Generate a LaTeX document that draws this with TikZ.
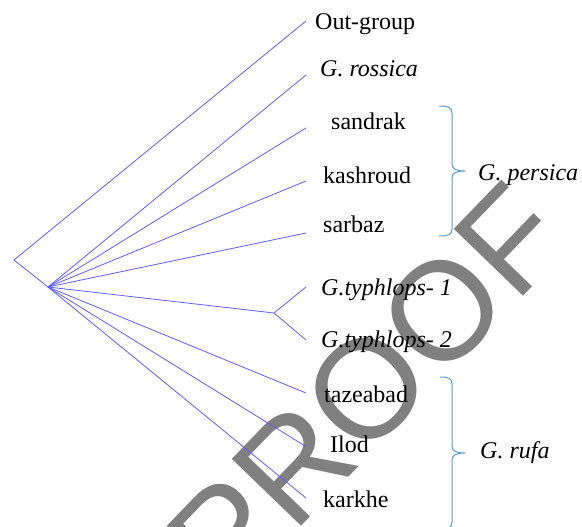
\documentclass[tikz,border=0pt]{standalone}
\usepackage{fontspec}
\setmainfont{Liberation Serif}
\newfontfamily\wmfont{Liberation Sans}
\definecolor{treeblue}{RGB}{95,95,250}
\definecolor{bracketblue}{RGB}{91,155,213}
\definecolor{wmgray}{RGB}{128,128,128}
\begin{document}
\begin{tikzpicture}[x=1pt,y=-1pt,
  branch/.style={draw=treeblue,line width=0.8pt},
  bracket/.style={draw=bracketblue,line width=1pt},
  leaf/.style={anchor=base west,inner sep=0pt,font=\fontsize{24}{28}\selectfont},
  italleaf/.style={leaf,font=\fontsize{24}{28}\selectfont\itshape},
  watermark/.style={text=wmgray,font=\wmfont\fontsize{140}{140}\selectfont,rotate=46,inner sep=0pt}]
\useasboundingbox (0,0) rectangle (582,527);
\fill[white] (0,0) rectangle (582,527);
% watermark
\node[watermark] (wm) at (367,389) {PROOF};
% tree vertices
\coordinate (og) at (14,260);
\coordinate (root) at (48,287);
\coordinate (typh) at (274,313);
\coordinate (e1) at (306,21);
\coordinate (e2) at (306,75);
\coordinate (e3) at (306,128);
\coordinate (e4) at (306,181);
\coordinate (e5) at (306,233);
\coordinate (e6) at (306,287);
\coordinate (e7) at (306,340);
\coordinate (e8) at (306,393);
\coordinate (e9) at (305,446);
\coordinate (e10) at (306,498);
% branches
\draw[branch] (e1) -- (og) -- (root);
\foreach \e in {e2,e3,e4,e5,typh,e8,e9,e10} \draw[branch] (root) -- (\e);
\draw[branch] (e6) -- (typh) -- (e7);
% labels
\node[leaf] (t1) at (315,30) {Out-group};
\node[italleaf] (t2) at (320,77) {G. rossica};
\node[leaf] (t3) at (331,130) {sandrak};
\node[leaf] (t4) at (323,183) {kashroud};
\node[leaf] (t5) at (323,232) {sarbaz};
\node[italleaf] (t6) at (321,295) {G.typhlops- 1};
\node[italleaf] (t7) at (321,347) {G.typhlops- 2};
\node[leaf] (t8) at (324,402) {tazeabad};
\node[leaf] (t9) at (330,452) {Ilod};
\node[leaf] (t10) at (323,507) {karkhe};
% brackets
\coordinate (p1) at (439,106);
\coordinate (p2) at (465,171);
\coordinate (p3) at (439,236);
\draw[bracket] (p1) .. controls (448,106) and (452,107) .. (452,113) -- (452,164)
  .. controls (452,169) and (456,171) .. (p2)
  .. controls (456,171) and (452,173) .. (452,178) -- (452,229)
  .. controls (452,235) and (448,236) .. (p3);
\node[italleaf] (gp) at (478,180) {G. persica};
\coordinate (q1) at (440,377);
\coordinate (q2) at (465,453);
\coordinate (q3) at (440,529);
\draw[bracket] (q1) .. controls (448,377) and (452,378) .. (452,384) -- (452,446)
  .. controls (452,451) and (456,453) .. (q2)
  .. controls (456,453) and (452,455) .. (452,460) -- (452,522)
  .. controls (452,528) and (448,529) .. (q3);
\node[italleaf] (gr) at (480,458) {G. rufa};
\end{tikzpicture}
\end{document}
